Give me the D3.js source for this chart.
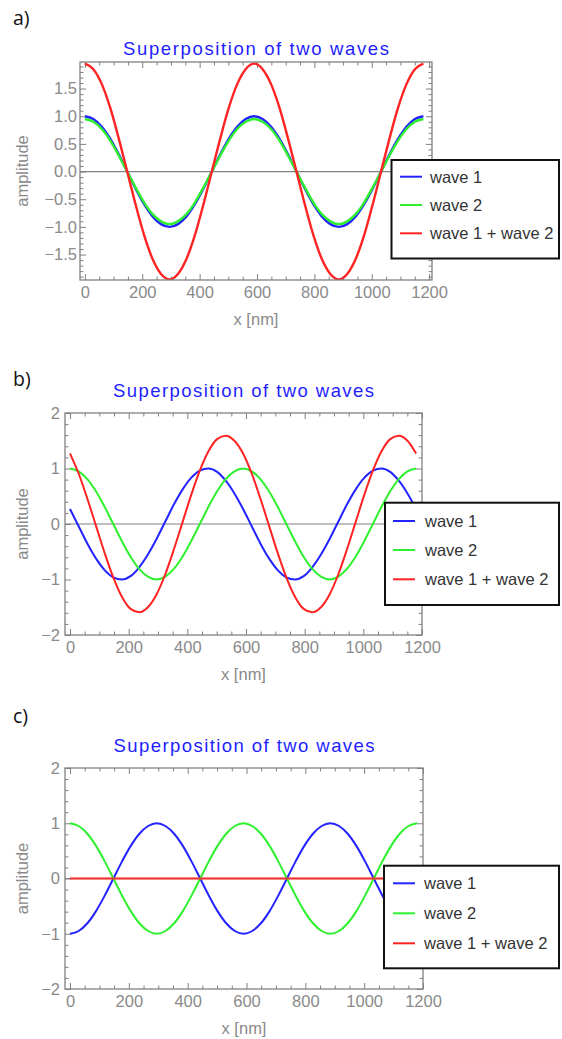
<!DOCTYPE html>
<html>
<head>
<meta charset="utf-8">
<script src="https://cdn.jsdelivr.net/npm/d3@7"></script>
<style>
  body { margin: 0; background: #fff; }
  svg text { font-family: "Liberation Sans", Arial, sans-serif; }
</style>
</head>
<body>
<div id="chart"></div>
<script>
const xNm = [0, 29.5, 59, 88.5, 118, 147.5, 177, 206.5, 236, 265.5,
             295, 324.5, 354, 383.5, 413, 442.5, 472, 501.5, 531, 560.5,
             590, 619.5, 649, 678.5, 708, 737.5, 767, 796.5, 826, 855.5,
             885, 914.5, 944, 973.5, 1003, 1032.5, 1062, 1091.5, 1121, 1150.5, 1180];

// a) in phase
const aWave1 = [1.00, 0.95, 0.81, 0.59, 0.31, 0.00, -0.31, -0.59, -0.81, -0.95,
                -1.00, -0.95, -0.81, -0.59, -0.31, 0.00, 0.31, 0.59, 0.81, 0.95,
                1.00, 0.95, 0.81, 0.59, 0.31, 0.00, -0.31, -0.59, -0.81, -0.95,
                -1.00, -0.95, -0.81, -0.59, -0.31, 0.00, 0.31, 0.59, 0.81, 0.95, 1.00];
const aWave2 = [0.95, 0.90, 0.77, 0.56, 0.29, 0.00, -0.29, -0.56, -0.77, -0.90,
                -0.95, -0.90, -0.77, -0.56, -0.29, 0.00, 0.29, 0.56, 0.77, 0.90,
                0.95, 0.90, 0.77, 0.56, 0.29, 0.00, -0.29, -0.56, -0.77, -0.90,
                -0.95, -0.90, -0.77, -0.56, -0.29, 0.00, 0.29, 0.56, 0.77, 0.90, 0.95];
const aSum   = [1.95, 1.85, 1.58, 1.15, 0.60, 0.00, -0.60, -1.15, -1.58, -1.85,
                -1.95, -1.85, -1.58, -1.15, -0.60, 0.00, 0.60, 1.15, 1.58, 1.85,
                1.95, 1.85, 1.58, 1.15, 0.60, 0.00, -0.60, -1.15, -1.58, -1.85,
                -1.95, -1.85, -1.58, -1.15, -0.60, 0.00, 0.60, 1.15, 1.58, 1.85, 1.95];

// b) shifted
const bWave1 = [0.27, -0.04, -0.35, -0.62, -0.83, -0.96, -1.00, -0.94, -0.78, -0.55,
                -0.27, 0.04, 0.35, 0.62, 0.83, 0.96, 1.00, 0.94, 0.78, 0.55,
                0.27, -0.04, -0.35, -0.62, -0.83, -0.96, -1.00, -0.94, -0.78, -0.55,
                -0.27, 0.04, 0.35, 0.62, 0.83, 0.96, 1.00, 0.94, 0.78, 0.55, 0.27];
const bWave2 = [1.00, 0.95, 0.81, 0.59, 0.31, 0.00, -0.31, -0.59, -0.81, -0.95,
                -1.00, -0.95, -0.81, -0.59, -0.31, 0.00, 0.31, 0.59, 0.81, 0.95,
                1.00, 0.95, 0.81, 0.59, 0.31, 0.00, -0.31, -0.59, -0.81, -0.95,
                -1.00, -0.95, -0.81, -0.59, -0.31, 0.00, 0.31, 0.59, 0.81, 0.95, 1.00];
const bSum   = [1.27, 0.91, 0.46, -0.03, -0.52, -0.96, -1.31, -1.53, -1.59, -1.50,
                -1.27, -0.91, -0.46, 0.03, 0.52, 0.96, 1.31, 1.53, 1.59, 1.50,
                1.27, 0.91, 0.46, -0.03, -0.52, -0.96, -1.31, -1.53, -1.59, -1.50,
                -1.27, -0.91, -0.46, 0.03, 0.52, 0.96, 1.31, 1.53, 1.59, 1.50, 1.27];

// c) opposite phase
const cWave1 = [-1.00, -0.95, -0.81, -0.59, -0.31, 0.00, 0.31, 0.59, 0.81, 0.95,
                1.00, 0.95, 0.81, 0.59, 0.31, 0.00, -0.31, -0.59, -0.81, -0.95,
                -1.00, -0.95, -0.81, -0.59, -0.31, 0.00, 0.31, 0.59, 0.81, 0.95,
                1.00, 0.95, 0.81, 0.59, 0.31, 0.00, -0.31, -0.59, -0.81, -0.95, -1.00];
const cWave2 = [1.00, 0.95, 0.81, 0.59, 0.31, 0.00, -0.31, -0.59, -0.81, -0.95,
                -1.00, -0.95, -0.81, -0.59, -0.31, 0.00, 0.31, 0.59, 0.81, 0.95,
                1.00, 0.95, 0.81, 0.59, 0.31, 0.00, -0.31, -0.59, -0.81, -0.95,
                -1.00, -0.95, -0.81, -0.59, -0.31, 0.00, 0.31, 0.59, 0.81, 0.95, 1.00];
const cSum   = [0, 0, 0, 0, 0, 0, 0, 0, 0, 0, 0, 0, 0, 0, 0, 0, 0, 0, 0, 0,
                0, 0, 0, 0, 0, 0, 0, 0, 0, 0, 0, 0, 0, 0, 0, 0, 0, 0, 0, 0, 0];

const seriesNames = ["wave 1", "wave 2", "wave 1 + wave 2"];
const panelLabels = ["a)", "b)", "c)"];
const titleText = "Superposition of two waves";
const xTicks = [0, 200, 400, 600, 800, 1000, 1200];
const yTicksA = [-1.5, -1.0, -0.5, 0.0, 0.5, 1.0, 1.5];
const yTicksBC = [-2, -1, 0, 1, 2];

const colors = ["#2323ff", "#2ef02e", "#ff2323"];

const panels = [
  { label: panelLabels[0], ys: [aWave1, aWave2, aSum], yTicks: yTicksA, yFmt: d3.format(".1f"), yMinor: 0.1,
    left: 80, right: 432, top: 62, bottom: 280, xDom: [-17, 1210], yDom: [-1.96, 1.98],
    labelY: 25, titleY: 55, titleLen: 266, lab: 3,
    leg: { x0: 391.5, y0: 160, y1: 258.5, lx: 400, tx: 430, rows: [176.7, 205, 233.3] } },
  { label: panelLabels[1], ys: [bWave1, bWave2, bSum], yTicks: yTicksBC, yFmt: d3.format("d"), yMinor: 0.2,
    left: 65, right: 422, top: 413, bottom: 635, xDom: [-17, 1200], yDom: [-2, 2],
    labelY: 386, titleY: 397, titleLen: 261, lab: 5,
    leg: { x0: 385, y0: 502.7, y1: 605, lx: 393, tx: 425, rows: [521, 550, 579.3] } },
  { label: panelLabels[2], ys: [cWave1, cWave2, cSum], yTicks: yTicksBC, yFmt: d3.format("d"), yMinor: 0.2,
    left: 65, right: 423, top: 768, bottom: 989, xDom: [-17, 1200], yDom: [-2, 2],
    labelY: 723, titleY: 752, titleLen: 261, lab: 5,
    leg: { x0: 384, y0: 865.7, y1: 968.3, lx: 393, tx: 424, rows: [883.3, 913.3, 943.3] } }
];

const svg = d3.select("#chart")
  .append("svg")
  .attr("width", 562)
  .attr("height", 1039);

const minus = s => s.replace("-", "\u2212");

panels.forEach((p, pi) => {
  const x = d3.scaleLinear().domain(p.xDom).range([p.left, p.right]);
  const y = d3.scaleLinear().domain(p.yDom).range([p.bottom, p.top]);
  const g = svg.append("g");

  g.append("text")
   .attr("x", 13).attr("y", p.labelY)
   .style("font-family", "'Open Sans', sans-serif")
   .attr("font-size", "19.5px")
   .attr("fill", "#111")
   .text(p.label);

  g.append("text")
   .attr("x", (p.left + p.right) / 2).attr("y", p.titleY)
   .attr("text-anchor", "middle")
   .attr("font-size", "18.5px")
   .attr("fill", "#1e1eff")
   .attr("textLength", p.titleLen)
   .attr("lengthAdjust", "spacing")
   .text(titleText);

  // minor ticks
  const xMinor = d3.range(0, 1201, 50).filter(v => v % 200 !== 0);
  const yMinor = d3.range(Math.ceil(p.yDom[0] / p.yMinor), Math.floor(p.yDom[1] / p.yMinor) + 1)
                   .map(k => +(k * p.yMinor).toFixed(2))
                   .filter(v => !p.yTicks.some(t => Math.abs(t - v) < 1e-6));

  const axes = [
    [d3.axisBottom(x).tickValues(xMinor).tickSize(-3.5).tickFormat(""), `translate(0,${p.bottom})`],
    [d3.axisTop(x).tickValues(xMinor).tickSize(-3.5).tickFormat(""), `translate(0,${p.top})`],
    [d3.axisTop(x).tickValues(xTicks).tickSize(-6).tickFormat(""), `translate(0,${p.top})`],
    [d3.axisLeft(y).tickValues(yMinor).tickSize(-3.5).tickFormat(""), `translate(${p.left},0)`],
    [d3.axisRight(y).tickValues(yMinor).tickSize(-3.5).tickFormat(""), `translate(${p.right},0)`],
    [d3.axisRight(y).tickValues(p.yTicks).tickSize(-6).tickFormat(""), `translate(${p.right},0)`]
  ];
  axes.forEach(([ax, tr]) => {
    g.append("g").attr("transform", tr).call(ax)
     .call(s => s.select(".domain").remove())
     .selectAll("line").attr("stroke", "#808080");
  });

  g.append("g")
   .attr("transform", `translate(0,${p.bottom})`)
   .call(d3.axisBottom(x).tickValues(xTicks).tickSize(-6).tickPadding(6).tickFormat(d3.format("d")))
   .call(s => s.select(".domain").remove())
   .call(s => s.selectAll("line").attr("stroke", "#808080"))
   .call(s => s.selectAll("text").attr("fill", "#8a8a8a").attr("font-size", "16.5px")
                .style("font-family", "'Liberation Sans', Arial, sans-serif"));

  g.append("g")
   .attr("transform", `translate(${p.left},0)`)
   .call(d3.axisLeft(y).tickValues(p.yTicks).tickSize(-6).tickPadding(p.lab)
           .tickFormat(d => minus(p.yFmt(d))))
   .call(s => s.select(".domain").remove())
   .call(s => s.selectAll("line").attr("stroke", "#808080"))
   .call(s => s.selectAll("text").attr("fill", "#8a8a8a").attr("font-size", "16.5px")
                .style("font-family", "'Liberation Sans', Arial, sans-serif"));

  // zero line, under the curves
  g.append("line")
   .attr("x1", p.left).attr("x2", p.right)
   .attr("y1", y(0)).attr("y2", y(0))
   .attr("stroke", "#808080").attr("stroke-width", 1.2);

  // curves
  const clipId = "clip" + pi;
  g.append("clipPath").attr("id", clipId)
   .append("rect")
   .attr("x", p.left).attr("y", p.top)
   .attr("width", p.right - p.left).attr("height", p.bottom - p.top);

  const line = d3.line()
    .x((d, i) => x(xNm[i]))
    .y(d => y(d))
    .curve(d3.curveMonotoneX);

  const plot = g.append("g").attr("clip-path", `url(#${clipId})`);
  p.ys.forEach((vals, si) => {
    plot.append("path")
      .attr("d", line(vals))
      .attr("fill", "none")
      .attr("stroke", colors[si])
      .attr("stroke-width", pi === 0 ? 2.4 : (pi === 2 && si === 2 ? 2.6 : 2))
      .attr("stroke-opacity", pi === 2 && si === 2 ? 0.75 : 1);
  });

  // frame
  g.append("rect")
   .attr("x", p.left).attr("y", p.top)
   .attr("width", p.right - p.left).attr("height", p.bottom - p.top)
   .attr("fill", "none").attr("stroke", "#808080").attr("stroke-width", 1.3);

  // axis titles
  g.append("text")
   .attr("x", (p.left + p.right) / 2).attr("y", p.bottom + 45)
   .attr("text-anchor", "middle")
   .attr("font-size", "16.5px")
   .attr("fill", "#8a8a8a")
   .text("x [nm]");

  g.append("text")
   .attr("transform", `translate(28,${(p.top + p.bottom) / 2}) rotate(-90)`)
   .attr("text-anchor", "middle")
   .attr("font-size", "16.5px")
   .attr("fill", "#8a8a8a")
   .text("amplitude");

  // legend
  const L = p.leg;
  g.append("rect")
   .attr("x", L.x0).attr("y", L.y0)
   .attr("width", 559 - L.x0).attr("height", L.y1 - L.y0)
   .attr("fill", "#fff").attr("stroke", "#111").attr("stroke-width", 2);

  seriesNames.forEach((name, si) => {
    g.append("line")
     .attr("x1", L.lx).attr("x2", L.lx + 22)
     .attr("y1", L.rows[si]).attr("y2", L.rows[si])
     .attr("stroke", colors[si]).attr("stroke-width", 2);
    g.append("text")
     .attr("x", L.tx).attr("y", L.rows[si] + 6)
     .attr("font-size", "16.5px")
     .attr("fill", "#333")
     .text(name);
  });
});
</script>
</body>
</html>
